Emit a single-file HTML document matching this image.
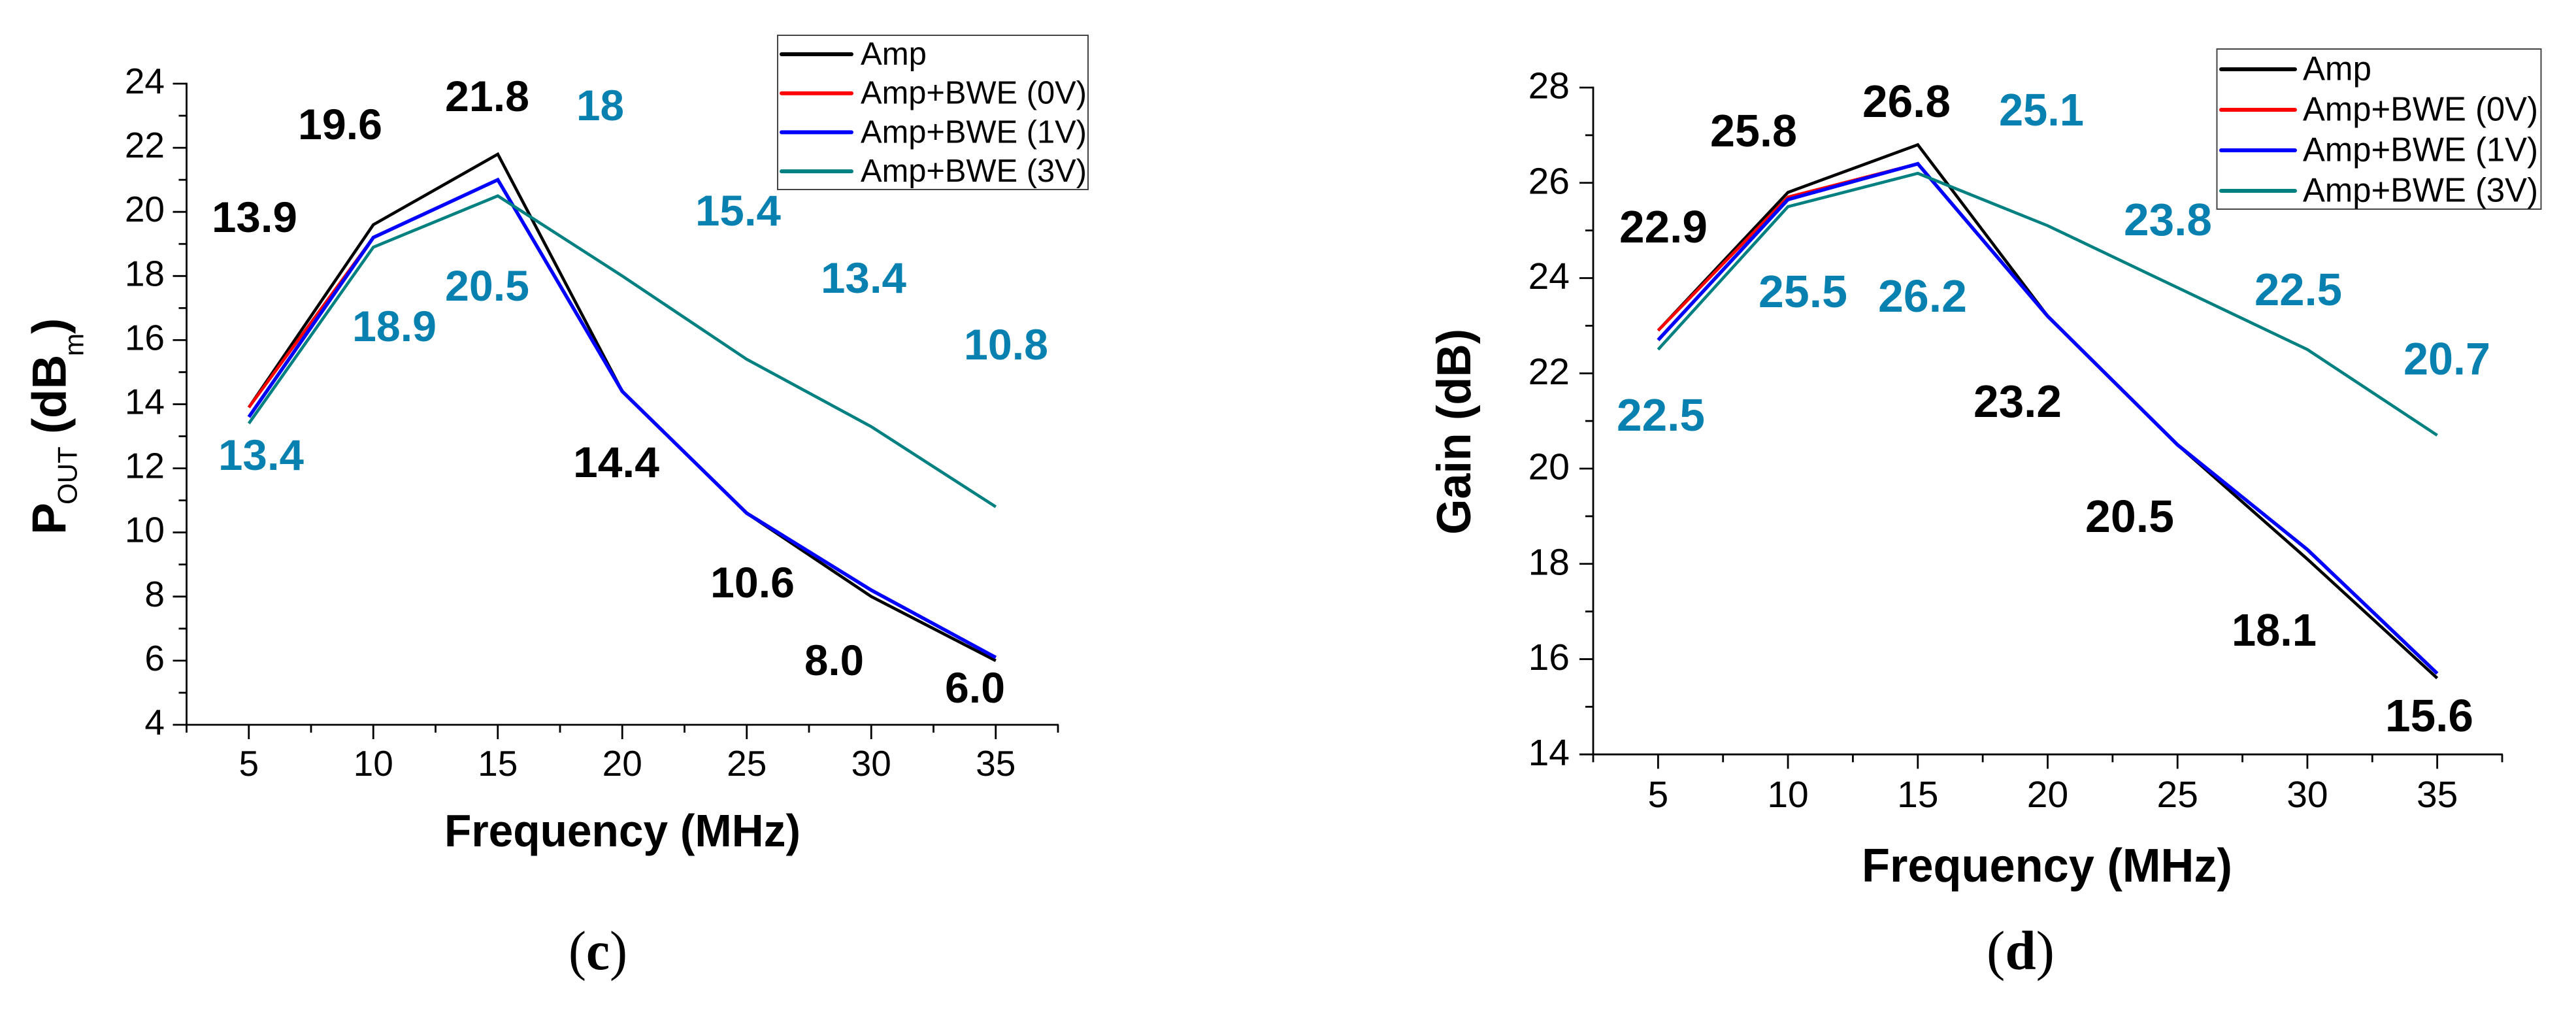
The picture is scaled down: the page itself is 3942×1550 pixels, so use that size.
<!DOCTYPE html>
<html lang="en">
<head>
<meta charset="utf-8">
<title>Amplifier output power and gain versus frequency</title>
<style>
html,body{margin:0;padding:0;background:#fff;}
svg{display:block;}
text{font-family:"Liberation Sans",Arial,sans-serif;fill:#000;}
.val{font-weight:bold;font-size:66px;text-anchor:start;}
.vald{font-weight:bold;font-size:70px;text-anchor:start;}
.k{fill:#000;}
.b{fill:#0880b0;}
.cap{font-family:"Liberation Serif",serif;font-size:85px;}
.ttl{font-weight:bold;}
</style>
</head>
<body>
<svg id="fig" xmlns="http://www.w3.org/2000/svg" width="3942" height="1550" viewBox="0 0 3942 1550">
  <rect x="0" y="0" width="3942" height="1550" fill="#fff"/>
  <g id="panelC"></g>
  <g id="panelD"></g>

  <!-- axis titles panel c -->
  <text class="ttl" x="680" y="1295" font-size="70" textLength="545" lengthAdjust="spacingAndGlyphs">Frequency (MHz)</text>
  <text class="ttl" transform="translate(100.7 813) rotate(-90)" font-size="73"><tspan x="-5" y="0">P</tspan><tspan x="41" y="17" font-size="42" font-weight="normal">OUT</tspan><tspan x="149" y="0">(</tspan><tspan x="173" y="0">dB</tspan><tspan x="268" y="27" font-size="42" font-weight="normal">m</tspan><tspan x="302" y="0">)</tspan></text>

  <!-- axis titles panel d -->
  <text class="ttl" x="2849" y="1349" font-size="72" textLength="567" lengthAdjust="spacingAndGlyphs">Frequency (MHz)</text>
  <text class="ttl" transform="translate(2250 818) rotate(-90)" font-size="73" textLength="315" lengthAdjust="spacingAndGlyphs">Gain (dB)</text>

  <!-- value annotations panel c -->
  <g>
    <text class="val k" x="324" y="355" textLength="131" lengthAdjust="spacingAndGlyphs">13.9</text>
    <text class="val k" x="456" y="213" textLength="129" lengthAdjust="spacingAndGlyphs">19.6</text>
    <text class="val k" x="681" y="170" textLength="129" lengthAdjust="spacingAndGlyphs">21.8</text>
    <text class="val k" x="877" y="730" textLength="132" lengthAdjust="spacingAndGlyphs">14.4</text>
    <text class="val k" x="1087" y="914" textLength="129" lengthAdjust="spacingAndGlyphs">10.6</text>
    <text class="val k" x="1231" y="1033" textLength="91" lengthAdjust="spacingAndGlyphs">8.0</text>
    <text class="val k" x="1446" y="1075" textLength="92" lengthAdjust="spacingAndGlyphs">6.0</text>
    <text class="val b" x="334" y="719" textLength="131" lengthAdjust="spacingAndGlyphs">13.4</text>
    <text class="val b" x="539" y="522" textLength="129" lengthAdjust="spacingAndGlyphs">18.9</text>
    <text class="val b" x="681" y="460" textLength="129" lengthAdjust="spacingAndGlyphs">20.5</text>
    <text class="val b" x="882" y="184" textLength="73" lengthAdjust="spacingAndGlyphs">18</text>
    <text class="val b" x="1064" y="345" textLength="131" lengthAdjust="spacingAndGlyphs">15.4</text>
    <text class="val b" x="1256" y="448" textLength="131" lengthAdjust="spacingAndGlyphs">13.4</text>
    <text class="val b" x="1475" y="550" textLength="129" lengthAdjust="spacingAndGlyphs">10.8</text>
  </g>

  <!-- value annotations panel d -->
  <g>
    <text class="vald k" x="2478" y="371" textLength="135" lengthAdjust="spacingAndGlyphs">22.9</text>
    <text class="vald k" x="2617" y="224" textLength="133" lengthAdjust="spacingAndGlyphs">25.8</text>
    <text class="vald k" x="2850" y="179" textLength="135" lengthAdjust="spacingAndGlyphs">26.8</text>
    <text class="vald k" x="3020" y="638" textLength="135" lengthAdjust="spacingAndGlyphs">23.2</text>
    <text class="vald k" x="3191" y="814" textLength="136" lengthAdjust="spacingAndGlyphs">20.5</text>
    <text class="vald k" x="3415" y="988" textLength="130" lengthAdjust="spacingAndGlyphs">18.1</text>
    <text class="vald k" x="3650" y="1119" textLength="135" lengthAdjust="spacingAndGlyphs">15.6</text>
    <text class="vald b" x="2474" y="659" textLength="135" lengthAdjust="spacingAndGlyphs">22.5</text>
    <text class="vald b" x="2691" y="470" textLength="136" lengthAdjust="spacingAndGlyphs">25.5</text>
    <text class="vald b" x="2874" y="477" textLength="136" lengthAdjust="spacingAndGlyphs">26.2</text>
    <text class="vald b" x="3059" y="192" textLength="130" lengthAdjust="spacingAndGlyphs">25.1</text>
    <text class="vald b" x="3250" y="360" textLength="135" lengthAdjust="spacingAndGlyphs">23.8</text>
    <text class="vald b" x="3450" y="467" textLength="134" lengthAdjust="spacingAndGlyphs">22.5</text>
    <text class="vald b" x="3678" y="573" textLength="133" lengthAdjust="spacingAndGlyphs">20.7</text>
  </g>

  <text class="cap" x="870" y="1483" textLength="90" lengthAdjust="spacingAndGlyphs">(<tspan font-weight="bold">c</tspan>)</text>
  <text class="cap" x="3040" y="1483" textLength="104" lengthAdjust="spacingAndGlyphs">(<tspan font-weight="bold">d</tspan>)</text>
</svg>
<script>
var frequencies = [5, 10, 15, 20, 25, 30, 35];
var seriesNames = ['Amp', 'Amp+BWE (0V)', 'Amp+BWE (1V)', 'Amp+BWE (3V)'];
var seriesColors = ['#000000', '#ff0000', '#0000ff', '#008080'];

var poutAmp = [13.9, 19.6, 21.8, 14.4, 10.6, 8.0, 6.0];
var poutBwe0 = [13.9, 19.2, 21.0, 14.4, 10.6, 8.2, 6.1];
var poutBwe1 = [13.6, 19.2, 21.0, 14.4, 10.6, 8.2, 6.1];
var poutBwe3 = [13.4, 18.9, 20.5, 18.0, 15.4, 13.3, 10.8];

var gainAmp = [22.9, 25.8, 26.8, 23.2, 20.5, 18.1, 15.6];
var gainBwe0 = [22.9, 25.7, 26.4, 23.2, 20.5, 18.3, 15.7];
var gainBwe1 = [22.7, 25.65, 26.4, 23.2, 20.5, 18.3, 15.7];
var gainBwe3 = [22.5, 25.5, 26.2, 25.1, 23.8, 22.5, 20.7];

var poutYTicks = [4, 6, 8, 10, 12, 14, 16, 18, 20, 22, 24];
var gainYTicks = [14, 16, 18, 20, 22, 24, 26, 28];
var xTicks = [5, 10, 15, 20, 25, 30, 35];

var NS = 'http://www.w3.org/2000/svg';

function svgEl(parent, tag, attrs, txt) {
  var el = document.createElementNS(NS, tag);
  for (var k in attrs) { el.setAttribute(k, attrs[k]); }
  if (txt !== undefined) { el.textContent = txt; }
  parent.appendChild(el);
  return el;
}

function drawPanel(root, prefix, L, series, yTicks) {
  function xPos(v) { return L.xLeft + (v - L.xMin) * (L.xRight - L.xLeft) / (L.xMax - L.xMin); }
  function yPos(v) { return L.yBottom - (v - L.yMin) * (L.yBottom - L.yTop) / (L.yMax - L.yMin); }
  var axisStroke = 2.8;

  var i, el, y, x;
  // y axis
  el = svgEl(root, 'line', {x1: L.xLeft, x2: L.xLeft, y1: yPos(L.yMax) - 1.4, y2: L.yBottom + 1, stroke: '#000', 'stroke-width': axisStroke});
  
  
  // x axis
  el = svgEl(root, 'line', {x1: L.xLeft - 1, x2: L.xRight + 1, y1: L.yBottom, y2: L.yBottom, stroke: '#000', 'stroke-width': axisStroke});
  
  

  // y ticks
  for (i = 0; i < yTicks.length; i++) {
    y = yPos(yTicks[i]);
    el = svgEl(root, 'line', {x1: L.xLeft - 21, x2: L.xLeft, y1: y, y2: y, stroke: '#000', 'stroke-width': axisStroke});
    
    
    el = svgEl(root, 'text', {x: L.yLabelRight, y: y + L.yLabelDrop, 'font-size': L.tickFont, 'text-anchor': 'end'}, String(yTicks[i]));
    
    
    if (i < yTicks.length - 1) {
      y = yPos((yTicks[i] + yTicks[i + 1]) / 2);
      el = svgEl(root, 'line', {x1: L.xLeft - 12, x2: L.xLeft, y1: y, y2: y, stroke: '#000', 'stroke-width': axisStroke});
      
      
    }
  }

  // x ticks
  for (i = 0; i < xTicks.length; i++) {
    x = xPos(xTicks[i]);
    el = svgEl(root, 'line', {x1: x, x2: x, y1: L.yBottom, y2: L.yBottom + 22, stroke: '#000', 'stroke-width': axisStroke});
    
    
    el = svgEl(root, 'text', {x: x, y: L.xLabelBase, 'font-size': L.tickFont, 'text-anchor': 'middle'}, String(xTicks[i]));
    
    
    x = xPos(xTicks[i] - 2.5);
    el = svgEl(root, 'line', {x1: x, x2: x, y1: L.yBottom, y2: L.yBottom + 12, stroke: '#000', 'stroke-width': axisStroke});
    
    
  }
  x = xPos(xTicks[xTicks.length - 1] + 2.5);
  el = svgEl(root, 'line', {x1: x, x2: x, y1: L.yBottom, y2: L.yBottom + 12, stroke: '#000', 'stroke-width': axisStroke});
  
  

  // series
  for (var s = 0; s < series.length; s++) {
    var pts = [];
    for (i = 0; i < frequencies.length; i++) {
      pts.push(xPos(frequencies[i]).toFixed(1) + ',' + yPos(series[s][i]).toFixed(1));
    }
    el = svgEl(root, 'polyline', {points: pts.join(' '), fill: 'none', stroke: seriesColors[s], 'stroke-width': s === 2 ? 5.4 : 4.6, 'stroke-linejoin': 'miter'});
    
    
  }

  // legend
  var lg = svgEl(root, 'g', {});
  
  
  el = svgEl(lg, 'rect', {x: L.lgLeft, y: L.lgTop, width: L.lgRight - L.lgLeft, height: L.lgBottom - L.lgTop, fill: '#fff', stroke: '#444', 'stroke-width': 2});
  
  
  for (i = 0; i < seriesNames.length; i++) {
    y = L.lgRow0 + i * L.lgStep;
    el = svgEl(lg, 'line', {x1: L.lgLineA, x2: L.lgLineB, y1: y, y2: y, stroke: seriesColors[i], 'stroke-width': 6, 'stroke-linecap': 'round'});
    
    
    el = svgEl(lg, 'text', {x: L.lgText, y: y + L.lgDrop, 'font-size': L.lgFont, textLength: i === 0 ? L.lgW0 : L.lgW1, lengthAdjust: 'spacingAndGlyphs'}, seriesNames[i]);
    
    
  }
}

drawPanel(document.getElementById('panelC'), 'pout', {
  xLeft: 285.5, xRight: 1619, xMin: 2.5, xMax: 37.5,
  yBottom: 1109, yTop: 128, yMin: 4, yMax: 24,
  yLabelRight: 252, yLabelDrop: 15, xLabelBase: 1187, tickFont: 55,
  lgLeft: 1190, lgRight: 1665, lgTop: 54, lgBottom: 290,
  lgRow0: 83, lgStep: 59.7, lgLineA: 1196, lgLineB: 1303,
  lgText: 1317, lgDrop: 16, lgFont: 49, lgW0: 101, lgW1: 346
}, [poutAmp, poutBwe0, poutBwe1, poutBwe3], poutYTicks);

drawPanel(document.getElementById('panelD'), 'gain', {
  xLeft: 2438, xRight: 3829, xMin: 2.5, xMax: 37.5,
  yBottom: 1154.3, yTop: 134, yMin: 14, yMax: 28,
  yLabelRight: 2402, yLabelDrop: 16.5, xLabelBase: 1235, tickFont: 57,
  lgLeft: 3392.5, lgRight: 3888.5, lgTop: 75, lgBottom: 320,
  lgRow0: 106, lgStep: 62, lgLineA: 3399, lgLineB: 3512,
  lgText: 3524, lgDrop: 16.5, lgFont: 52, lgW0: 105, lgW1: 360
}, [gainAmp, gainBwe0, gainBwe1, gainBwe3], gainYTicks);
</script>
</body>
</html>
